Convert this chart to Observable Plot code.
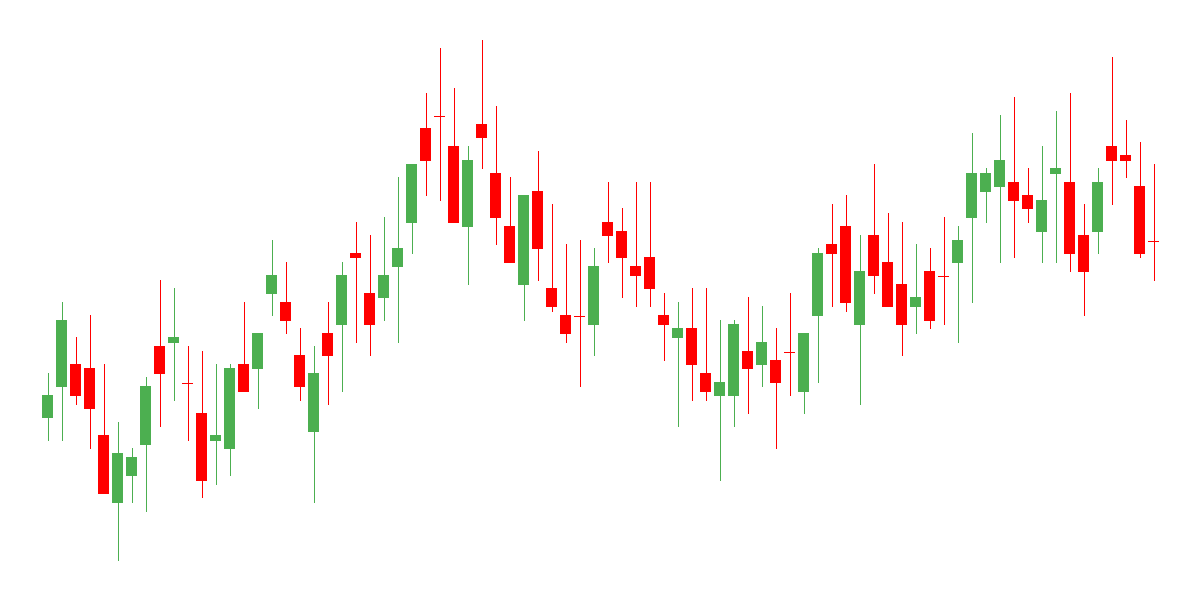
<!DOCTYPE html>
<html>
<head>
<meta charset="utf-8">
<script src="https://cdn.jsdelivr.net/npm/d3@7"></script>
<script src="https://cdn.jsdelivr.net/npm/@observablehq/plot@0.6"></script>
<style>
  html, body { margin: 0; padding: 0; background: #ffffff; }
  #chart svg { display: block; }
</style>
</head>
<body>
<div id="chart"></div>
<script>
const open = [86.5,92.7,97.2,96.4,83.0,69.5,74.9,81.1,100.8,101.5,93.5,87.4,81.9,80.3,97.2,96.3,111.3,109.6,99.0,83.7,
  103.4,105.1,119.4,111.4,110.5,116.7,125.5,144.4,146.9,140.8,124.7,145.2,135.4,124.8,113.1,131.8,112.4,107.0,106.9,105.1,
  125.6,123.8,116.8,118.6,107.0,102.5,104.4,95.4,90.9,90.9,99.8,97.1,98.0,99.7,91.7,106.9,121.2,124.8,105.1,123.0,
  117.6,113.2,108.7,115.8,114.9,117.5,126.5,131.7,132.7,133.6,131.0,123.7,135.3,133.6,123.0,123.7,140.8,139.0,132.8,121.9];
const high = [95.4,109.6,102.6,107.0,97.2,85.6,80.4,94.6,114.0,112.4,100.8,99.8,97.2,97.2,109.6,103.4,122.0,117.6,104.4,100.8,
  109.6,117.6,125.6,123.0,126.6,134.6,137.2,151.4,160.4,152.4,140.8,162.0,148.8,134.6,131.0,139.8,129.2,121.2,122.0,120.4,
  133.6,128.4,133.6,133.6,111.4,109.6,112.4,112.4,106.0,106.0,110.6,108.8,104.4,111.4,103.4,120.4,129.2,131.0,123.0,137.2,
  127.4,125.6,121.2,120.4,126.6,124.8,143.4,136.4,147.0,150.6,136.4,140.8,147.8,151.4,129.2,136.4,158.6,146.0,141.6,137.2];
const low = [81.8,81.8,89.1,80.3,71.3,57.9,69.5,67.7,84.7,89.9,81.8,70.5,73.1,74.9,91.7,88.3,106.9,103.3,89.9,69.5,
  89.1,91.7,101.5,98.9,105.9,101.5,119.3,130.9,129.9,125.5,113.1,136.3,121.1,117.5,105.9,113.9,107.7,101.5,92.7,98.9,
  117.5,110.5,108.7,108.7,97.8,84.7,89.9,89.9,73.9,84.7,87.3,92.7,80.3,90.9,87.3,93.5,108.7,107.7,89.1,111.3,
  108.7,98.9,103.3,104.3,105.1,101.5,109.5,125.5,117.5,118.5,125.5,117.5,117.5,115.7,106.9,119.3,129.1,134.5,118.5,113.9];
const close = [91.0,106.0,90.9,88.3,71.3,79.4,78.6,92.8,95.3,102.6,93.5,73.9,83.0,96.4,91.7,103.4,115.0,105.9,92.7,95.4,
  98.9,115.0,118.4,105.1,115.0,120.4,137.2,137.9,146.9,125.5,138.0,142.5,126.5,117.5,131.0,120.3,108.7,103.3,106.9,116.8,
  122.9,118.5,114.9,112.3,105.1,104.4,97.1,91.7,93.6,105.2,96.3,101.6,93.5,99.7,103.4,119.4,119.3,109.5,115.8,114.9,
  108.7,105.1,110.6,105.9,114.9,122.0,135.4,135.4,138.0,129.9,128.3,130.0,136.4,119.3,115.7,133.6,137.9,137.9,119.3,121.9];

const UP = "#4caf50", DOWN = "#ff0000";
const candles = open.map((o, i) => ({
  i, open: o, high: high[i], low: low[i], close: close[i],
  color: close[i] > o ? UP : DOWN
}));

const chart = Plot.plot({
  width: 1200,
  height: 600,
  marginTop: 0, marginBottom: 0, marginLeft: 40.5, marginRight: 39.5,
  x: {type: "band", domain: d3.range(open.length), paddingInner: 3/14, paddingOuter: 3/28, axis: null},
  y: {domain: [50, 170], axis: null},
  marks: [
    Plot.ruleX(candles, {x: "i", y1: "low", y2: "high", stroke: "color", strokeWidth: 1, shapeRendering: "crispEdges"}),
    Plot.barY(candles.filter(d => d.open !== d.close), {x: "i", y1: "open", y2: "close", fill: "color", shapeRendering: "crispEdges"}),
    Plot.tickY(candles.filter(d => d.open === d.close), {x: "i", y: "close", stroke: "color", strokeWidth: 1, shapeRendering: "crispEdges"})
  ]
});
document.getElementById("chart").append(chart);
</script>
</body>
</html>
